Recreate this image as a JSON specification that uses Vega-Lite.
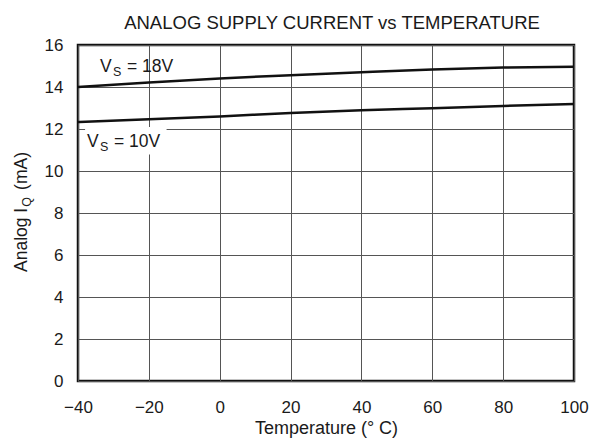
{
  "$schema": "https://vega.github.io/schema/vega-lite/v6.json",
  "width": 496,
  "height": 336,
  "autosize": {"type": "none"},
  "padding": {"left": 78, "top": 45, "right": 20, "bottom": 66},
  "background": "white",
  "title": {"text": "ANALOG SUPPLY CURRENT vs TEMPERATURE", "fontSize": 18.5, "fontWeight": "normal", "font": "Liberation Sans", "color": "#1a1a1a", "offset": 4, "dx": 6},
  "config": {
    "font": "Liberation Sans",
    "view": {"stroke": "#111", "strokeWidth": 2.5},
    "axis": {"grid": true, "gridColor": "#555", "gridWidth": 1, "ticks": false, "domain": false, "labelFontSize": 17, "labelColor": "#1a1a1a", "labelFont": "Liberation Sans", "labelFlush": false, "labelOverlap": false, "titleFont": "Liberation Sans", "titleFontSize": 18, "titleFontWeight": "normal", "titleColor": "#1a1a1a"}
  },
  "datasets": {
    "curves": [
      {"t": -40, "v": 14.0, "s": "18V"}, {"t": -20, "v": 14.21, "s": "18V"}, {"t": 0, "v": 14.41, "s": "18V"}, {"t": 20, "v": 14.56, "s": "18V"}, {"t": 40, "v": 14.7, "s": "18V"}, {"t": 60, "v": 14.83, "s": "18V"}, {"t": 80, "v": 14.93, "s": "18V"}, {"t": 100, "v": 14.97, "s": "18V"},
      {"t": -40, "v": 12.33, "s": "10V"}, {"t": -20, "v": 12.46, "s": "10V"}, {"t": 0, "v": 12.6, "s": "10V"}, {"t": 20, "v": 12.76, "s": "10V"}, {"t": 40, "v": 12.89, "s": "10V"}, {"t": 60, "v": 12.99, "s": "10V"}, {"t": 80, "v": 13.1, "s": "10V"}, {"t": 100, "v": 13.19, "s": "10V"}
    ],
    "box": [{"t": -38, "t2": -15, "v": 12.1, "v2": 10.78}],
    "mainText": [
      {"t": -33.79, "v": 14.71, "text": "V"}, {"t": -26.17, "v": 14.71, "text": "= 18V"},
      {"t": -37.46, "v": 11.16, "text": "V"}, {"t": -29.84, "v": 11.16, "text": "= 10V"}
    ],
    "subText": [
      {"t": -30.12, "v": 14.71, "text": "S"}, {"t": -33.79, "v": 11.16, "text": "S"}
    ],
    "yTitleMain": [
      {"t": -40, "v": 5.19, "text": "Analog I"}, {"t": -40, "v": 9.1, "text": "(mA)"}
    ],
    "yTitleSub": [
      {"t": -40, "v": 8.3, "text": "Q"}
    ]
  },
  "encoding": {
    "x": {"field": "t", "type": "quantitative", "scale": {"domain": [-40, 100], "nice": false, "zero": false}, "axis": {"values": [-40, -20, 0, 20, 40, 60, 80, 100], "title": "Temperature (° C)", "labelPadding": 18, "titlePadding": 4}},
    "y": {"field": "v", "type": "quantitative", "scale": {"domain": [0, 16], "nice": false}, "axis": {"values": [0, 2, 4, 6, 8, 10, 12, 14, 16], "title": null, "labelPadding": 15}}
  },
  "layer": [
    {
      "data": {"name": "box"},
      "mark": {"type": "rect", "fill": "white", "stroke": null},
      "encoding": {"x2": {"field": "t2"}, "y2": {"field": "v2"}}
    },
    {
      "data": {"name": "curves"},
      "mark": {"type": "line", "color": "#111", "strokeWidth": 2.5, "interpolate": "monotone"},
      "encoding": {"detail": {"field": "s", "type": "nominal"}}
    },
    {
      "data": {"name": "mainText"},
      "mark": {"type": "text", "align": "left", "baseline": "alphabetic", "fontSize": 17.5, "color": "#1a1a1a"},
      "encoding": {"text": {"field": "text"}}
    },
    {
      "data": {"name": "subText"},
      "mark": {"type": "text", "align": "left", "baseline": "alphabetic", "fontSize": 12.5, "dy": 4, "color": "#1a1a1a"},
      "encoding": {"text": {"field": "text"}}
    },
    {
      "data": {"name": "yTitleMain"},
      "mark": {"type": "text", "align": "left", "baseline": "alphabetic", "angle": 270, "fontSize": 17.5, "dy": -51, "color": "#1a1a1a"},
      "encoding": {"text": {"field": "text"}}
    },
    {
      "data": {"name": "yTitleSub"},
      "mark": {"type": "text", "align": "left", "baseline": "alphabetic", "angle": 270, "fontSize": 12.5, "dy": -47, "color": "#1a1a1a"},
      "encoding": {"text": {"field": "text"}}
    }
  ]
}
